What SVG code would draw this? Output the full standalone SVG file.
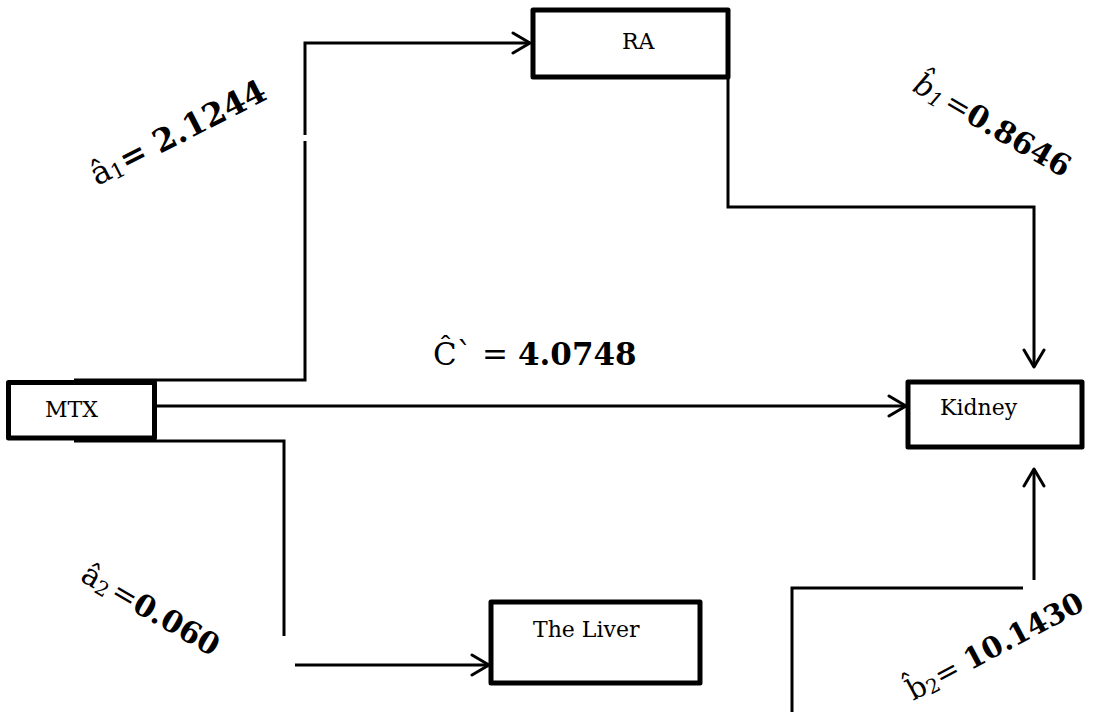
<svg xmlns="http://www.w3.org/2000/svg" width="1099" height="712" viewBox="0 0 1099 712">
<defs>
<style>
.box{fill:#fff;stroke:#000;stroke-width:5;stroke-linejoin:round}
.node{font-family:"DejaVu Serif","Liberation Serif",serif;font-size:22px;fill:#000}
.conn{fill:none;stroke:#000;stroke-width:3}
.arrow{marker-end:url(#ah)}
.lbl{font-family:"DejaVu Serif","Liberation Serif",serif;fill:#000}
.b{font-weight:bold}
</style>
<marker id="ah" markerUnits="userSpaceOnUse" viewBox="-20 -12 22 24" refX="0" refY="0" markerWidth="22" markerHeight="24" orient="auto">
<path d="M-17,-10 L0,0 L-17,10" fill="none" stroke="#000" stroke-width="3" stroke-linejoin="round" stroke-linecap="round"/>
</marker>
</defs>
<rect width="1099" height="712" fill="#fff"/>
<g id="nodes">
<g id="node-ra"><rect class="box" x="533" y="10" width="195" height="67"/><text class="node" x="622" y="49">RA</text></g>
<g id="node-mtx"><rect class="box" x="8.5" y="382.5" width="146" height="55.5"/><text class="node" x="45" y="417">MTX</text></g>
<g id="node-kidney"><rect class="box" x="908" y="382" width="174" height="65"/><text class="node" x="940" y="415">Kidney</text></g>
<g id="node-liver"><rect class="box" x="491" y="602" width="209" height="81"/><text class="node" x="533" y="637">The Liver</text></g>
</g>
<g id="connectors">
<path class="conn" d="M74,380 H305 V141"/>
<path class="conn arrow" d="M305,135 V43 H530"/>
<path class="conn arrow" d="M157,406 H906"/>
<path class="conn" d="M74,441 H284 V636"/>
<path class="conn arrow" d="M295,665 H489"/>
<path class="conn arrow" d="M728,78 V207 H1034 V367"/>
<path class="conn" d="M792,712 V588 H1023"/>
<path class="conn arrow" d="M1034,580 V469"/>
</g>
<g id="labels" class="lbl">
<text transform="translate(97,186) rotate(-27)" font-size="32">â<tspan font-size="21" dy="3">1</tspan><tspan class="b" dy="-3">= 2.1244</tspan></text>
<text transform="translate(911,90) rotate(30)" font-size="30"><tspan font-style="italic">b&#x302;</tspan><tspan font-size="20" dy="3" font-style="italic">1</tspan><tspan dy="-3" dx="4">=</tspan><tspan class="b">0.8646</tspan></text>
<text x="433" y="365" font-size="31">Ĉ`<tspan x="482">=</tspan><tspan x="518" class="b">4.0748</tspan></text>
<text transform="translate(79,580) rotate(30)" font-size="30">â<tspan font-size="20" dy="3">2</tspan><tspan dy="-3" dx="4">=</tspan><tspan class="b">0.060</tspan></text>
<text transform="translate(913,701) rotate(-28)" font-size="29">b&#x302;<tspan font-size="20" dy="3">2</tspan><tspan dy="-3">= </tspan><tspan class="b">10.1430</tspan></text>
</g>
</svg>
